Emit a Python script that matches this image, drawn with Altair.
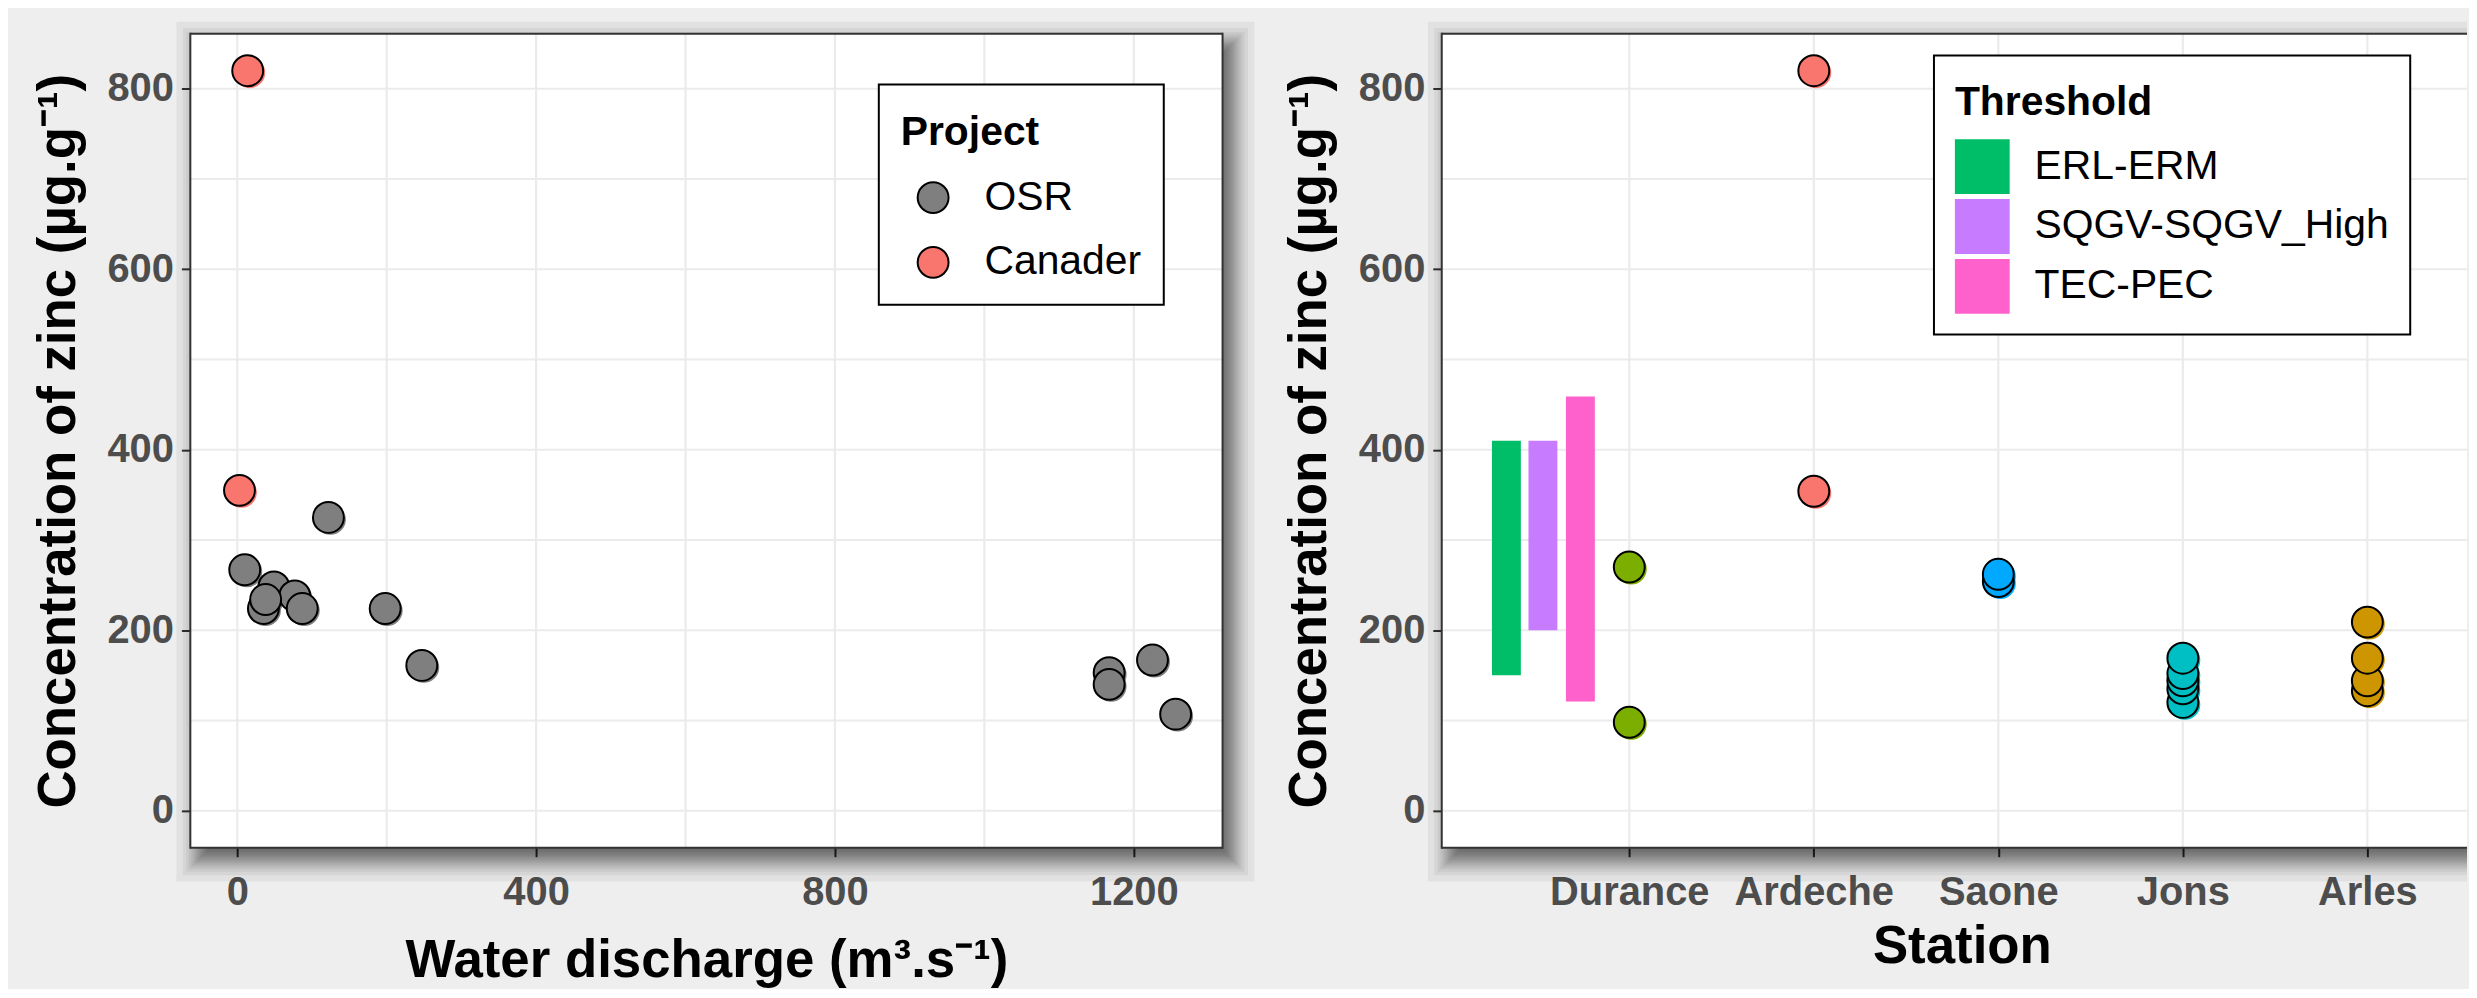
import altair as alt
import pandas as pd
from statistics import NormalDist

# ------------------------------------------------------------------ data
osr_discharge = [122, 10, 49, 77, 87, 35, 38, 198, 247, 1167, 1167, 1225, 1256]
osr_zinc = [325, 267, 248, 238, 224, 224, 234, 224, 161, 153, 140, 167, 107]
canader_discharge = [14, 3]
canader_zinc = [820, 355]
projects = ["OSR", "Canader"]
project_colors = ["#7F7F7F", "#F8766D"]

stations = ["Durance", "Ardeche", "Saone", "Jons", "Arles"]
station_colors = ["#7CAE00", "#F8766D", "#00A9FF", "#00BFC4", "#CD9600"]
durance_zinc = [270, 98]
ardeche_zinc = [820, 354]
saone_zinc = [254, 262]
jons_zinc = [120, 135, 144, 152, 169]
arles_zinc = [133, 144, 169, 209]

thresholds = ["ERL-ERM", "SQGV-SQGV_High", "TEC-PEC"]
threshold_low = [150, 200, 121]
threshold_high = [410, 410, 459]
threshold_pos = [0.334, 0.532, 0.735]
threshold_colors = ["#00BE67", "#C77CFF", "#FF61CC"]

y_ticks = [0, 200, 400, 600, 800]
y_grid = [0, 100, 200, 300, 400, 500, 600, 700, 800]
x1_ticks = [0, 400, 800, 1200]
x1_grid = [0, 200, 400, 600, 800, 1000, 1200]
x2_ticks = [1, 2, 3, 4, 5]

# ------------------------------------------------------------------ style
FONT = "Liberation Sans, Arial, Helvetica, sans-serif"
W1, W2, H = 1036, 1029, 817
PT_SIZE = 962
GRID = "#EBEBEB"
EDGE = "#333333"
one = alt.Data(values=[{}])

y_scale = alt.Scale(domain=[-41, 861], nice=False, zero=False)
x1_scale = alt.Scale(domain=[-62.8, 1318.8], nice=False, zero=False)
x2_scale = alt.Scale(domain=[0.0107, 5.513], nice=False, zero=False)

common_axis = dict(grid=False, domain=False, ticks=True, tickSize=9, tickWidth=2,
                   tickColor=EDGE, labelFont=FONT, labelFontSize=40,
                   labelFontWeight="bold", labelColor="#4D4D4D", labelFlush=False,
                   labelOverlap=False, titleFont=FONT, titleFontSize=53,
                   titleFontWeight="bold", titleColor="black", titleLimit=2000)

y_axis = alt.Axis(title="Concentration of zinc (\u00b5g.g\u207b\u00b9)", values=y_ticks,
                  format="d", labelPadding=8, titlePadding=22, **common_axis)
x1_axis = alt.Axis(title="Water discharge (m\u00b3.s\u207b\u00b9)", values=x1_ticks,
                   format="d", labelPadding=16, titlePadding=22, **common_axis)
station_expr = "[" + ",".join("'" + s + "'" for s in stations) + "][datum.value - 1]"
x2_axis = alt.Axis(title="Station", values=x2_ticks, labelExpr=station_expr,
                   labelPadding=16, titlePadding=8, titleX=522, titleAlign="center",
                   **common_axis)

legend_common = dict(orient="none", fillColor="white", strokeColor="black",
                     cornerRadius=0, titleFont=FONT, titleFontSize=41,
                     titleFontWeight="bold", titleColor="black", titleBaseline="line-top",
                     labelFont=FONT, labelFontSize=41, labelColor="black",
                     labelLimit=1000, titleLimit=1000, symbolOpacity=1)

proj_legend = alt.Legend(title="Project", legendX=691, legendY=51, padding=22,
                         titleLineHeight=54, titlePadding=30, symbolType="circle",
                         symbolSize=PT_SIZE, symbolStrokeColor="black",
                         symbolStrokeWidth=2, symbolOffset=12, labelOffset=31,
                         rowPadding=23, **legend_common)
thr_legend = alt.Legend(title="Threshold", legendX=494, legendY=22, padding=21,
                        titleLineHeight=55, titlePadding=22, symbolType="square",
                        symbolSize=3025, symbolStrokeWidth=0, symbolOffset=0,
                        labelOffset=25, rowPadding=5, **legend_common)


def decor(W, clip_right):
    """panel drop shadow and white panel background"""
    layers = []
    n = 18
    sigma, dx, dy, max_dark = 12.0, 9.0, 11.0, 0.62
    alpha = 1 - (1 - max_dark) ** (1.0 / n)
    for k in range(n):
        e = sigma * NormalDist().inv_cdf((k + 0.5) / n)
        xa, xb = dx - e, W + dx + e
        if clip_right:
            xb = min(xb, W)
        layers.append(alt.Chart(one).mark_rect(color="black", opacity=alpha).encode(
            x=alt.value(xa), x2=alt.value(xb), y=alt.value(dy - e), y2=alt.value(H + dy + e)))
    layers.append(alt.Chart(one).mark_rect(color="white", opacity=1).encode(
        x=alt.value(0), x2=alt.value(W), y=alt.value(0), y2=alt.value(H)))
    return layers


def border(W, right_side):
    sides = [
        alt.Chart(one).mark_rule(color=EDGE, strokeWidth=2).encode(
            x=alt.value(0), y=alt.value(-1), y2=alt.value(H + 1)),
        alt.Chart(one).mark_rule(color=EDGE, strokeWidth=2).encode(
            x=alt.value(0), x2=alt.value(W), y=alt.value(0)),
        alt.Chart(one).mark_rule(color=EDGE, strokeWidth=2).encode(
            x=alt.value(0), x2=alt.value(W), y=alt.value(H)),
    ]
    if right_side:
        sides.append(alt.Chart(one).mark_rule(color=EDGE, strokeWidth=2).encode(
            x=alt.value(W), y=alt.value(-1), y2=alt.value(H + 1)))
    return sides


# ------------------------------------------------------------------ left panel
left_df = pd.DataFrame({
    "discharge": osr_discharge + canader_discharge,
    "zinc": osr_zinc + canader_zinc,
    "project": [projects[0]] * len(osr_discharge) + [projects[1]] * len(canader_discharge),
})
Y = alt.Y("zinc:Q", scale=y_scale, axis=y_axis)
X1 = alt.X("discharge:Q", scale=x1_scale, axis=x1_axis)
proj_fill = alt.Fill("project:N", scale=alt.Scale(domain=projects, range=project_colors),
                     legend=proj_legend)

ygrid = alt.Chart(pd.DataFrame({"zinc": y_grid})).mark_rule(color=GRID, strokeWidth=2.2).encode(y=Y)
x1grid = alt.Chart(pd.DataFrame({"discharge": x1_grid})).mark_rule(color=GRID, strokeWidth=2.2).encode(x=X1)
left_shadow_pts = alt.Chart(left_df).mark_circle(size=PT_SIZE, opacity=1, xOffset=2, yOffset=2).encode(
    x=X1, y=Y, fill=proj_fill)
left_pts = alt.Chart(left_df).mark_circle(size=PT_SIZE, opacity=1, stroke="black", strokeWidth=2).encode(
    x=X1, y=Y, fill=proj_fill)

left = alt.layer(*decor(W1, False), ygrid, x1grid, left_shadow_pts, left_pts,
                 *border(W1, True)).properties(width=W1, height=H)

# ------------------------------------------------------------------ right panel
st_values = [durance_zinc, ardeche_zinc, saone_zinc, jons_zinc, arles_zinc]
rows = []
for i, (name, vals) in enumerate(zip(stations, st_values)):
    for v in vals:
        rows.append({"sx": i + 1, "zinc": v, "station": name})
right_df = pd.DataFrame(rows)
thr_df = pd.DataFrame({"threshold": thresholds, "sx": threshold_pos,
                       "zinc": threshold_low, "high": threshold_high})

X2 = alt.X("sx:Q", scale=x2_scale, axis=x2_axis)
st_fill = alt.Fill("station:N", scale=alt.Scale(domain=stations, range=station_colors), legend=None)

x2grid = alt.Chart(pd.DataFrame({"sx": x2_ticks})).mark_rule(color=GRID, strokeWidth=2.2).encode(x=X2)
bars = alt.Chart(thr_df).mark_bar(size=29, opacity=1).encode(
    x=X2, y=Y, y2="high:Q",
    color=alt.Color("threshold:N", scale=alt.Scale(domain=thresholds, range=threshold_colors),
                    legend=thr_legend))
right_shadow_pts = alt.Chart(right_df).mark_circle(size=PT_SIZE, opacity=1, xOffset=2, yOffset=2).encode(
    x=X2, y=Y, fill=st_fill)
right_pts = alt.Chart(right_df).mark_circle(size=PT_SIZE, opacity=1, stroke="black", strokeWidth=2).encode(
    x=X2, y=Y, fill=st_fill)

right = alt.layer(*decor(W2, True), ygrid, x2grid, bars, right_shadow_pts, right_pts,
                  *border(W2, False)).properties(width=W2, height=H)

chart = alt.hconcat(left, right, spacing=220, bounds="flush").resolve_scale(
    fill="independent", color="independent", x="independent"
).properties(
    background="#EEEEEE",
    padding={"left": 24, "top": 12, "right": 0, "bottom": 0},
).configure(font=FONT).configure_view(strokeWidth=0).configure_legend(strokeWidth=2)

chart.save("out.html", embed_options={"renderer": "svg", "actions": False})
